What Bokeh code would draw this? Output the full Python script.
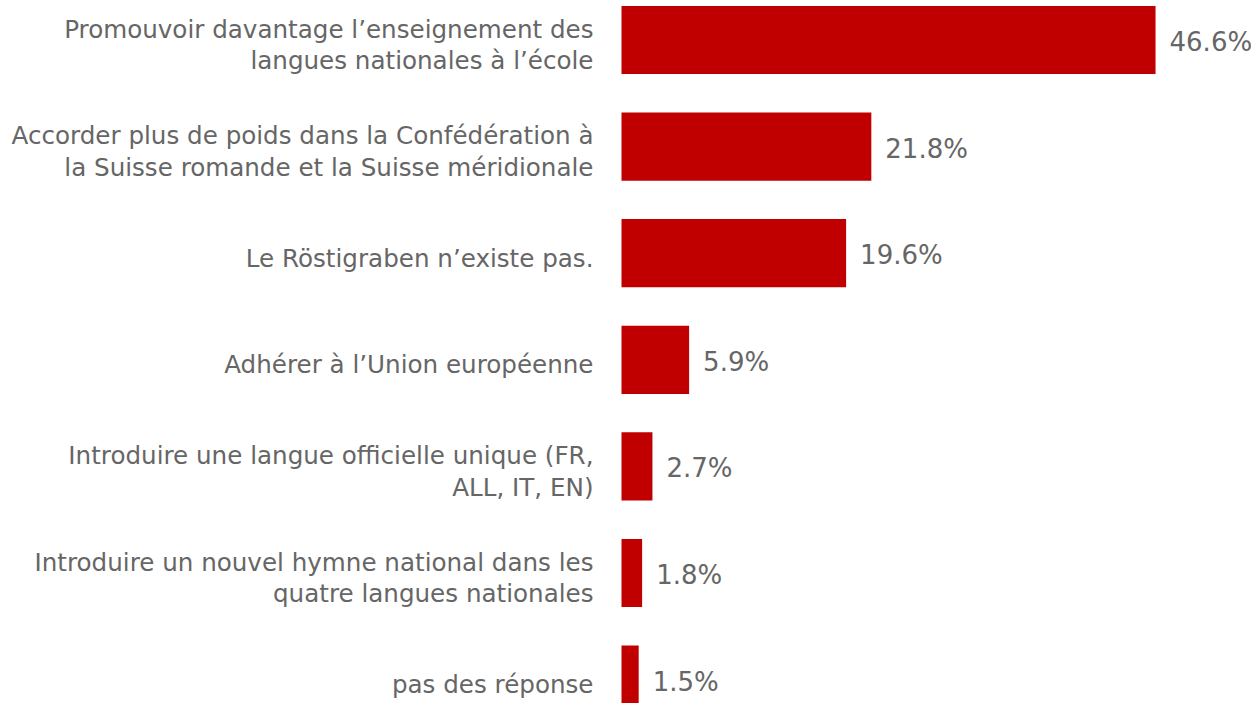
from bokeh.plotting import figure
from bokeh.models import ColumnDataSource, Range1d
from bokeh.core.properties import value
from bokeh.embed import file_html
from bokeh.resources import INLINE

categories = [
    "Promouvoir davantage l\u2019enseignement des\nlangues nationales \u00e0 l\u2019\u00e9cole",
    "Accorder plus de poids dans la Conf\u00e9d\u00e9ration \u00e0\nla Suisse romande et la Suisse m\u00e9ridionale",
    "Le R\u00f6stigraben n\u2019existe pas.",
    "Adh\u00e9rer \u00e0 l\u2019Union europ\u00e9enne",
    "Introduire une langue officielle unique (FR,\nALL, IT, EN)",
    "Introduire un nouvel hymne national dans les\nquatre langues nationales",
    "pas des r\u00e9ponse",
]
values = [46.6, 21.8, 19.6, 5.9, 2.7, 1.8, 1.5]
value_labels = ["46.6%", "21.8%", "19.6%", "5.9%", "2.7%", "1.8%", "1.5%"]

W, H = 1251, 703
px_per_unit = 11.46
bar_left_px = 621
row_px = 106.6
first_center_px = 39.5

src = ColumnDataSource(dict(
    y=list(range(len(values))),
    v=values,
    cat=categories,
    lab=value_labels,
    zero=[0] * len(values),
))

p = figure(width=W, height=H, output_backend="svg", toolbar_location=None,
           x_range=Range1d(-bar_left_px / px_per_unit, (W - bar_left_px) / px_per_unit),
           y_range=Range1d((H - first_center_px) / row_px, -first_center_px / row_px),
           min_border=0, outline_line_color=None)
p.axis.visible = False
p.grid.visible = False
p.background_fill_color = "white"
p.border_fill_color = "white"

p.hbar(y="y", left=0, right="v", height=0.64, source=src,
       fill_color="#C00000", line_color=None)

FONT = value("DejaVu Sans")
p.text(x="zero", y="y", text="cat", source=src, x_offset=-28, y_offset=5,
       text_align="right", text_baseline="middle", text_font=FONT,
       text_font_size="24.6px", text_color="#666666", text_line_height=1.08)
p.text(x="v", y="y", text="lab", source=src, x_offset=14, y_offset=2,
       text_align="left", text_baseline="middle", text_font=FONT,
       text_font_size="26px", text_color="#666666")

open("out.html", "w").write(file_html(p, INLINE))
